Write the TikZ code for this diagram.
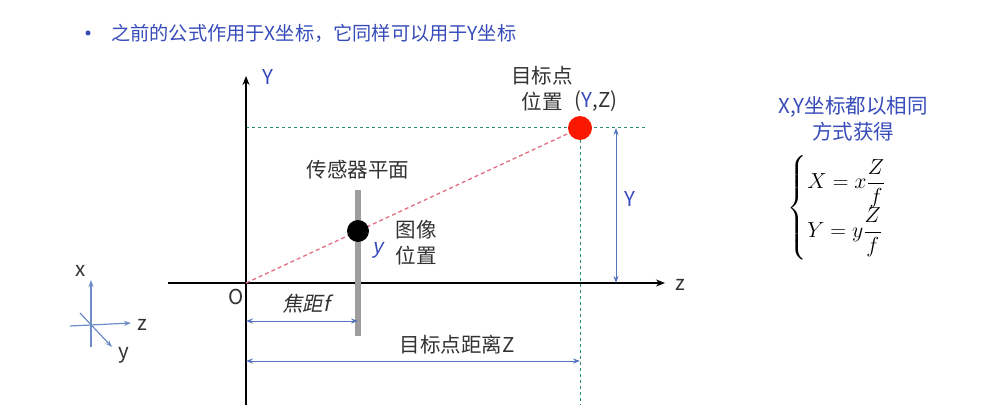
\documentclass[tikz,border=0pt]{standalone}
\usepackage{amsmath}
\usepackage{fontspec}
\setmainfont{Noto Sans CJK SC}
\newfontfamily\cjkit{Noto Sans CJK SC}[FakeSlant=0.2]
\usetikzlibrary{arrows.meta}
\definecolor{tblue}{RGB}{55,75,185}
\definecolor{txt}{RGB}{50,50,50}
\definecolor{ablue}{RGB}{85,115,190}
\definecolor{tri}{RGB}{110,140,200}
\definecolor{dgreen}{RGB}{40,140,120}
\definecolor{dred}{RGB}{225,110,130}
\definecolor{tred}{RGB}{250,25,0}
\tikzset{
  lbl/.style={font=\fontsize{20.5}{25}\selectfont, text=txt, inner sep=0pt, align=center},
  bluelbl/.style={lbl, text=tblue},
  axis/.style={line width=2.2pt, black},
  axarrow/.style={axis, -{Stealth[length=9pt,width=7pt]}},
  dimarrow/.style={ablue, line width=1pt, {Stealth[length=7pt,width=5pt]}-{Stealth[length=7pt,width=5pt]}},
  greendash/.style={dgreen, line width=1pt, dash pattern=on 3pt off 3pt},
  reddash/.style={dred, line width=1.3pt, dash pattern=on 4pt off 3pt},
  triax/.style={tri, line width=1.2pt, -{Stealth[length=7pt,width=5pt]}},
}
\begin{document}
\begin{tikzpicture}[x=1pt,y=-1pt]
\useasboundingbox (0,0) rectangle (999,417);
% title
\node[circle, fill=tblue, minimum size=5pt, inner sep=0pt] (bul) at (88,33) {};
\node[bluelbl, font=\fontsize{19.2}{23}\selectfont, anchor=west] (title) at (111,33) {之前的公式作用于X坐标，它同样可以用于Y坐标};
% coordinates
\coordinate (O) at (246,283);
\coordinate (Ybot) at (246,405);
\coordinate (Ytop) at (246,76);
\coordinate (Zl) at (168,283);
\coordinate (Zr) at (665,283);
\coordinate (Tl) at (246,128);
\coordinate (Tr) at (645,128);
\coordinate (Tb) at (580,405);
\coordinate (S1) at (358,190);
\coordinate (S2) at (358,336);
\coordinate (Ya) at (616,128);
\coordinate (Yb) at (616,283);
\coordinate (F1) at (246,321);
\coordinate (F2) at (358,321);
\coordinate (D1) at (246,361);
\coordinate (D2) at (580,361);
% dashed guides
\draw[greendash] (Tl) -- (Tr);
\draw[greendash] (580,128) -- (Tb);
% axes
\draw[axarrow] (Ybot) -- (Ytop);
\draw[axarrow] (Zl) -- (Zr);
% sensor plane
\draw[line width=6pt, gray!90!black!70] (S1) -- (S2);
% ray
\node[circle, fill=tred, minimum size=24pt, inner sep=0pt] (T) at (580,128) {};
\draw[reddash] (O) -- (T);
\node[circle, fill=black, minimum size=22pt, inner sep=0pt] (I) at (358,231) {};
% dimension arrows
\draw[dimarrow] (Ya) -- (Yb);
\draw[dimarrow] (F1) -- (F2);
\draw[dimarrow] (D1) -- (D2);
% labels
\node[bluelbl] (Ylab) at (268,77) {Y};
\node[lbl] (zlab) at (680,285) {z};
\node[lbl] (Olab) at (236,297) {O};
\node[lbl, font=\fontsize{20.5}{25}\cjkit] (flab) at (306,304) {焦距f};
\node[lbl] (sensor) at (358,170) {传感器平面};
\node[bluelbl, font=\fontsize{20.5}{25}\cjkit] (ylab) at (378,250) {y};
\node[lbl, font=\fontsize{20.5}{26}\selectfont] (img) at (416,243) {图像\\位置};
\node[lbl, font=\fontsize{20.5}{26}\selectfont] (tgt) at (542,89) {目标点\\位置};
\node[lbl] (YZ) at (596,101) {(\textcolor{tblue}{Y},Z)};
\node[lbl] (dist) at (457,345) {目标点距离Z};
\node[bluelbl] (Ydim) at (630,199) {Y};
% right side
\node[bluelbl, font=\fontsize{20.5}{26}\selectfont] (rt) at (853,119) {X,Y坐标都以相同\\方式获得};
\node[lbl, text=black] (eq) at (848,208) {\scalebox{1.05}{$\begin{cases} X = x\dfrac{Z}{f}\\[2pt] Y = y\dfrac{Z}{f}\end{cases}$}};
% triad
\coordinate (c0) at (91,325);
\coordinate (cx) at (91,280);
\coordinate (cz) at (131,323);
\coordinate (cy) at (112,347);
\draw[triax] (91,347) -- (cx);
\draw[triax] (70,326) -- (cz);
\draw[triax] (80,313) -- (cy);
\node[lbl] (xl) at (81,271) {x};
\node[lbl] (zl) at (142,325) {z};
\node[lbl] (yl) at (124,355) {y};
\end{tikzpicture}
\end{document}
